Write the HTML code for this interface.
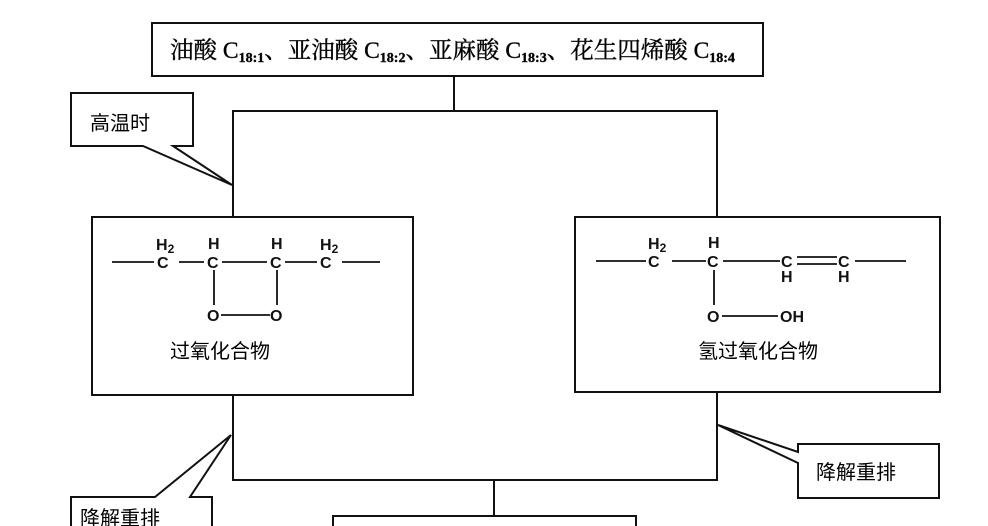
<!DOCTYPE html>
<html><head><meta charset="utf-8"><style>
html,body{margin:0;padding:0;background:#fff;}
svg{display:block}
.cn{font-family:"Liberation Sans","Noto Sans CJK SC",sans-serif;}
.sf{font-family:"Liberation Serif","Noto Serif CJK SC",serif;}
.ch{font-family:"Liberation Sans",sans-serif;font-weight:bold;font-size:16px;}
</style></head><body>
<svg width="988" height="526" viewBox="0 0 988 526" xmlns="http://www.w3.org/2000/svg">
<g fill="none" stroke="#111" stroke-width="2">
<rect x="152" y="23" width="611" height="53" fill="#fff"/>
<line x1="454" y1="76" x2="454" y2="111"/>
<polyline points="233,217 233,111 717,111 717,217"/>
<rect x="92" y="217" width="321" height="178" fill="#fff"/>
<rect x="575" y="217" width="365" height="175" fill="#fff"/>
<polyline points="233,395 233,480 717,480 717,392"/>
<line x1="494" y1="480" x2="494" y2="516"/>
<rect x="333" y="516" width="303" height="20"/>
<path d="M143,146 L71,146 L71,93 L193,93 L193,146 L173,146 L232,185 Z" fill="#fff"/>
<path d="M71,530 L71,497 L155,497 L231,435 L190,497 L212,497 L212,530" fill="#fff"/>
<path d="M798,452 L798,444 L939,444 L939,498 L798,498 L798,463 L718,425 Z" fill="#fff"/>
</g>
<text x="170" y="58" class="sf" font-size="23.5" stroke="#111" stroke-width="0.4">油酸 C<tspan font-size="14" dy="4" font-weight="bold">18:1</tspan><tspan dy="-4">、亚油酸 C</tspan><tspan font-size="14" dy="4" font-weight="bold">18:2</tspan><tspan dy="-4">、亚麻酸 C</tspan><tspan font-size="14" dy="4" font-weight="bold">18:3</tspan><tspan dy="-4">、花生四烯酸 C</tspan><tspan font-size="14" dy="4" font-weight="bold">18:4</tspan></text>
<text x="90" y="130" class="cn" font-size="20">高温时</text>
<text x="80" y="525" class="cn" font-size="20">降解重排</text>
<text x="816" y="479" class="cn" font-size="20">降解重排</text>
<g stroke="#111" stroke-width="1.8">
<line x1="112" y1="262" x2="154" y2="262"/><line x1="179" y1="262" x2="204" y2="262"/>
<line x1="222" y1="262" x2="267" y2="262"/><line x1="285" y1="262" x2="317" y2="262"/>
<line x1="342" y1="262" x2="380" y2="262"/>
<line x1="214" y1="270" x2="214" y2="305"/><line x1="277" y1="270" x2="277" y2="305"/>
<line x1="221" y1="315" x2="270" y2="315"/>
</g>
<g class="ch" fill="#111">
<text x="157" y="268">C</text><text x="156" y="250">H<tspan font-size="12" dy="3">2</tspan></text>
<text x="207" y="268">C</text><text x="208" y="249">H</text>
<text x="270" y="268">C</text><text x="271" y="249">H</text>
<text x="320" y="268">C</text><text x="320" y="250">H<tspan font-size="12" dy="3">2</tspan></text>
<text x="207" y="321">O</text><text x="270" y="321">O</text>
</g>
<text x="170" y="358" class="cn" font-size="20">过氧化合物</text>
<g stroke="#111" stroke-width="1.8">
<line x1="596" y1="261" x2="646" y2="261"/><line x1="672" y1="261" x2="706" y2="261"/>
<line x1="723" y1="261" x2="780" y2="261"/>
<line x1="797" y1="257" x2="837" y2="257"/><line x1="797" y1="264" x2="837" y2="264"/>
<line x1="855" y1="261" x2="906" y2="261"/>
<line x1="714" y1="270" x2="714" y2="305"/>
<line x1="722" y1="316" x2="778" y2="316"/>
</g>
<g class="ch" fill="#111">
<text x="648" y="267">C</text><text x="648" y="249">H<tspan font-size="12" dy="3">2</tspan></text>
<text x="707" y="267">C</text><text x="708" y="248">H</text>
<text x="781" y="267">C</text><text x="781" y="282">H</text>
<text x="838" y="267">C</text><text x="838" y="282">H</text>
<text x="707" y="322">O</text><text x="780" y="322">OH</text>
</g>
<text x="698" y="358" class="cn" font-size="20">氢过氧化合物</text>
</svg>
</body></html>
